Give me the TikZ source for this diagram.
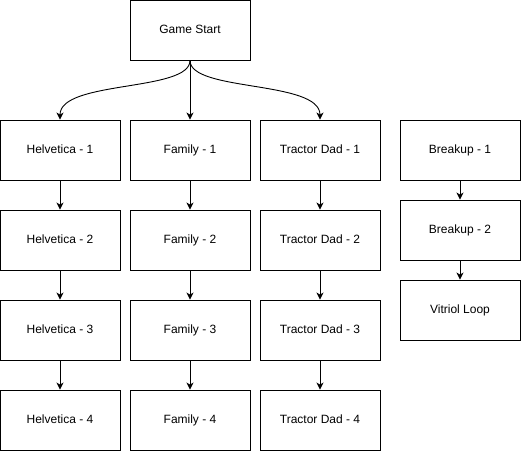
\documentclass[tikz,border=0pt]{standalone}
\usepackage{fontspec}
\setmainfont{Liberation Sans}
\usetikzlibrary{arrows.meta, positioning}

\begin{document}
\begin{tikzpicture}[x=1pt,y=-1pt,
  box/.style={draw, line width=0.9pt, minimum width=120pt, minimum height=60pt,
    inner sep=0pt, text height=9pt, text depth=2.5pt, font=\fontsize{12}{14}\selectfont},
  flow/.style={-{Stealth[length=7pt,width=7pt,inset=2pt]}, line width=0.9pt}]
\useasboundingbox (0,0) rectangle (521,451);

\node[box] (start) at (190,30) {Game Start};

%helvetica
\node[box] (helv1) at (60,150) {Helvetica - 1};
\node[box] (helv2) at (60,240) {Helvetica - 2};
\node[box] (helv3) at (60,330) {Helvetica - 3};
\node[box] (helv4) at (60,420) {Helvetica - 4};

%family
\node[box] (fam1) at (190,150) {Family - 1};
\node[box] (fam2) at (190,240) {Family - 2};
\node[box] (fam3) at (190,330) {Family - 3};
\node[box] (fam4) at (190,420) {Family - 4};

%tractor dad
\node[box] (trac1) at (320,150) {Tractor Dad - 1};
\node[box] (trac2) at (320,240) {Tractor Dad - 2};
\node[box] (trac3) at (320,330) {Tractor Dad - 3};
\node[box] (trac4) at (320,420) {Tractor Dad - 4};

%breakup
\node[box] (brk1) at (460,150) {Breakup - 1};
\node[box] (brk2) at (460,230) {Breakup - 2};
\node[box] (vitriol) at (460,310) {Vitriol Loop};

%edges
\draw[flow] (start.south) .. controls (190,92) and (60,80) .. (helv1.north);
\draw[flow] (start.south) -- (fam1.north);
\draw[flow] (start.south) .. controls (190,92) and (320,80) .. (trac1.north);

\draw[flow] (helv1) -- (helv2);
\draw[flow] (helv2) -- (helv3);
\draw[flow] (helv3) -- (helv4);
\draw[flow] (fam1) -- (fam2);
\draw[flow] (fam2) -- (fam3);
\draw[flow] (fam3) -- (fam4);
\draw[flow] (trac1) -- (trac2);
\draw[flow] (trac2) -- (trac3);
\draw[flow] (trac3) -- (trac4);
\draw[flow] (brk1) -- (brk2);
\draw[flow] (brk2) -- (vitriol);
\end{tikzpicture}
\end{document}
